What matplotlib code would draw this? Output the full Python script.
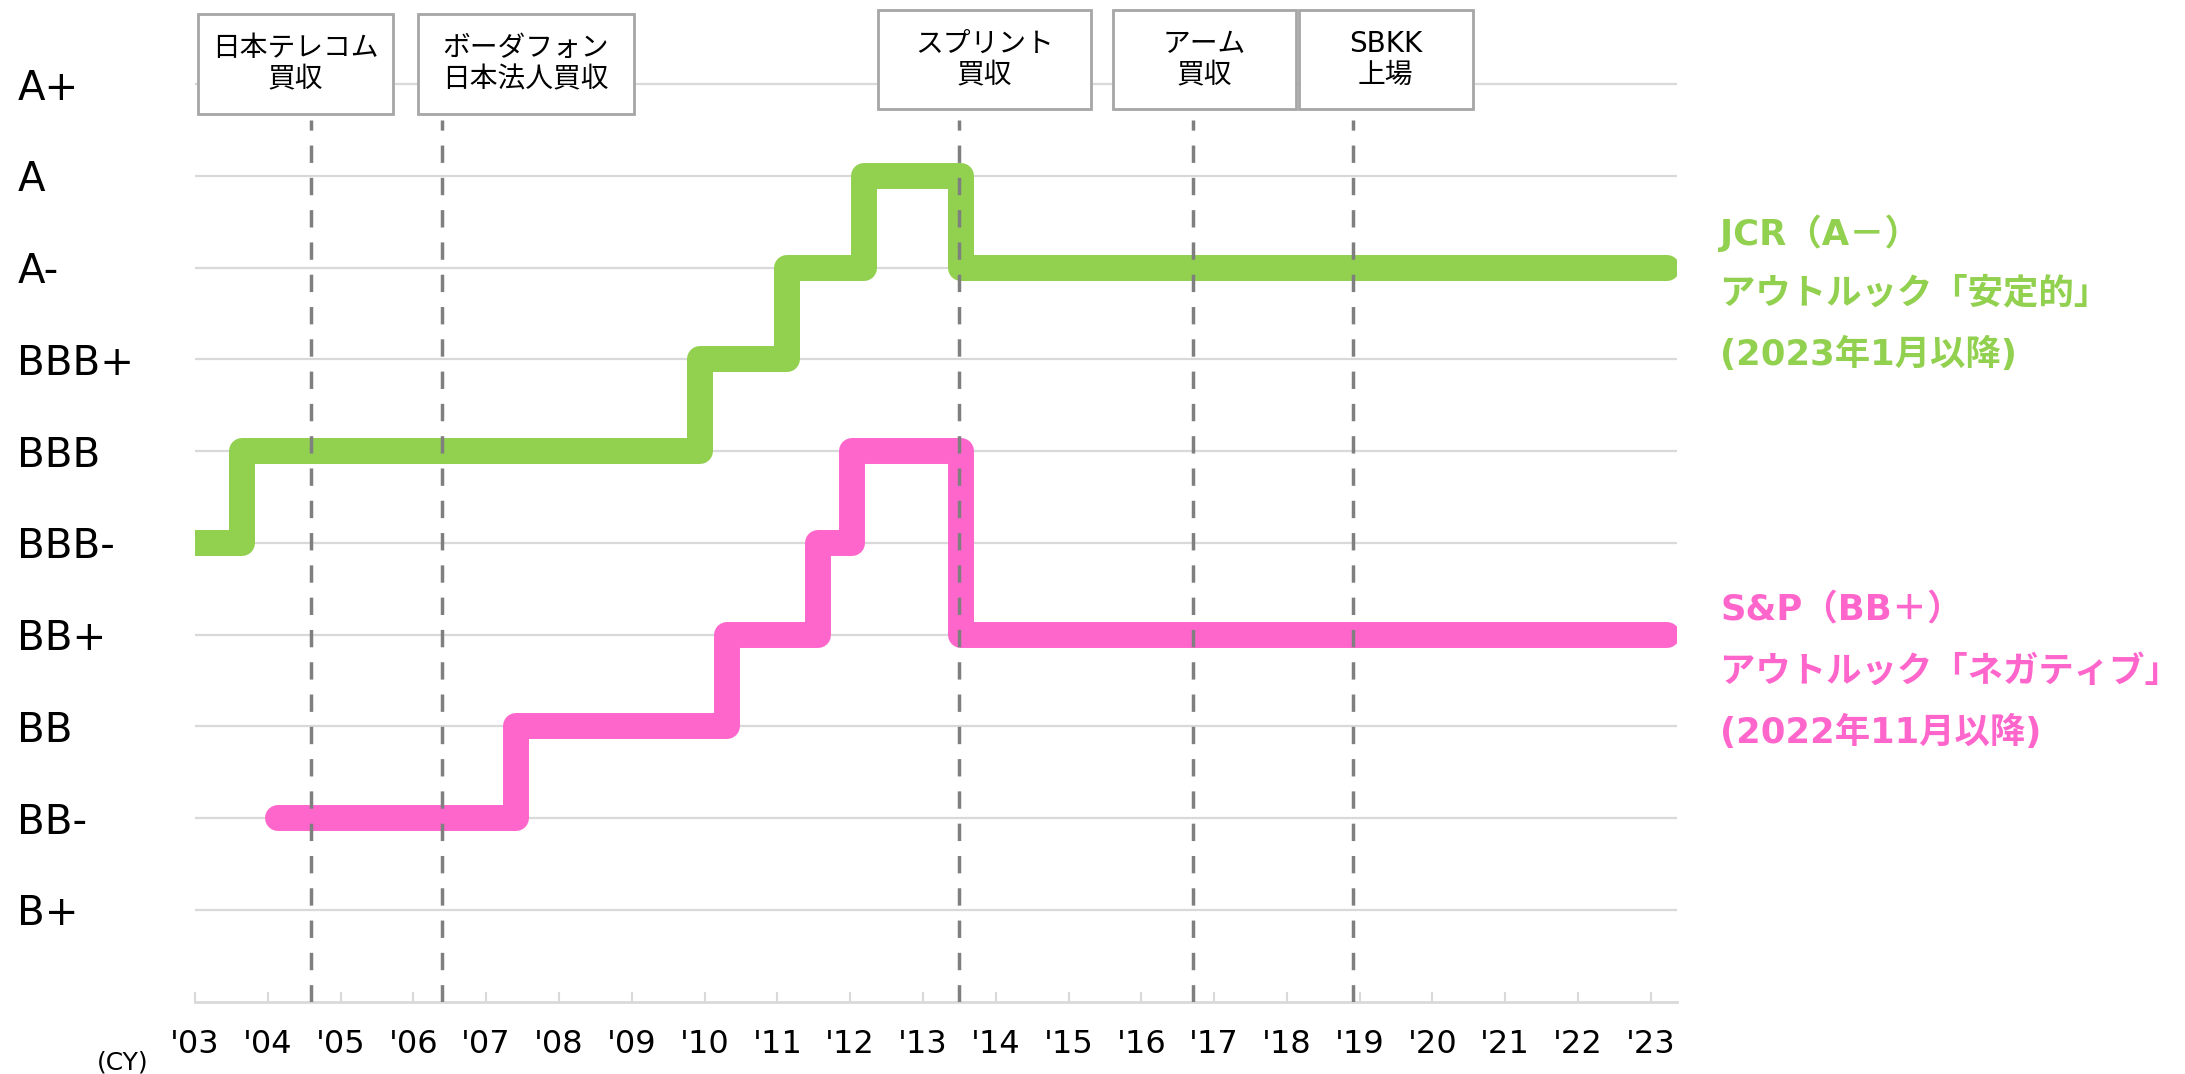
import matplotlib
matplotlib.use("Agg")
import matplotlib.pyplot as plt
from matplotlib.patches import Rectangle

plt.rcParams['font.family'] = ['DejaVu Sans', 'Noto Sans CJK JP']

# rating scale (bottom -> top) and years on the x axis
rating_labels = ['B+', 'BB-', 'BB', 'BB+', 'BBB-', 'BBB', 'BBB+', 'A-', 'A', 'A+']
year_ticks = list(range(2003, 2024))
year_labels = ["'%02d" % (y % 100) for y in year_ticks]

# rating history (year of change -> new rating)
jcr_years = [2003.0, 2003.64, 2009.94, 2011.13, 2012.19, 2013.52, 2023.22]
jcr_ratings = ['BBB-', 'BBB', 'BBB+', 'A-', 'A', 'A-', 'A-']
sp_years = [2004.14, 2007.41, 2010.31, 2011.56, 2012.03, 2013.52, 2023.22]
sp_ratings = ['BB-', 'BB', 'BB+', 'BBB-', 'BBB', 'BB+', 'BB+']

# events
event_years = [2004.59, 2006.39, 2013.49, 2016.71, 2018.91]
event_labels = ['日本テレコム\n買収', 'ボーダフォン\n日本法人買収', 'スプリント\n買収', 'アーム\n買収', 'SBKK\n上場']

jcr_note = ['JCR（A－）', 'アウトルック「安定的」', '(2023年1月以降)']
sp_note = ['S&P（BB＋）', 'アウトルック「ネガティブ」', '(2022年11月以降)']

GREEN = '#92D050'
PINK = '#FF66CC'
GRID = '#D9D9D9'

# layout of the event boxes (x span in years, y span in rating steps)
box_x = [(2003.04, 2005.72), (2006.06, 2009.03), (2012.38, 2015.31), (2015.61, 2018.12), (2018.16, 2020.55)]
box_y = [(9.675, 10.765), (9.675, 10.765), (9.73, 10.81), (9.73, 10.81), (9.73, 10.81)]


def to_level(ratings):
    return [rating_labels.index(r) + 1 for r in ratings]


fig = plt.figure(figsize=(21.85, 10.74), dpi=100)
ax = fig.add_axes([0.08924, 0.06732, 0.6783, 0.9269])
ax.set_xlim(2003, 2023.36)
ax.set_ylim(0, 10.85)

# grid / axes
ax.set_yticks(range(1, len(rating_labels) + 1), rating_labels)
ax.yaxis.grid(True, color=GRID, lw=1.6, zorder=0)
ax.set_axisbelow(True)
ax.tick_params(axis='y', length=0, pad=128, labelsize=29)
for lbl in ax.get_yticklabels():
    lbl.set_horizontalalignment('left')
for s in ['left', 'top', 'right']:
    ax.spines[s].set_visible(False)
ax.spines['bottom'].set_color(GRID)
ax.spines['bottom'].set_linewidth(2)
ax.set_xticks(year_ticks, year_labels)
ax.tick_params(axis='x', direction='in', length=7, width=1.5, color=GRID, pad=20, labelsize=23)

# rating lines
for yrs, rts, col in [(jcr_years, jcr_ratings, GREEN), (sp_years, sp_ratings, PINK)]:
    ln, = ax.step(yrs, to_level(rts), where='post', color=col, lw=18.7, zorder=2)
    ln.set_solid_capstyle('round')
    ln.set_solid_joinstyle('round')

# event lines and boxes
for yr in event_years:
    ax.plot([yr, yr], [0, 9.61], color='#7F7F7F', lw=2.5, dashes=(5, 4.3), zorder=3)
for (x0, x1), (y0, y1), txt in zip(box_x, box_y, event_labels):
    ax.add_patch(Rectangle((x0, y0), x1 - x0, y1 - y0, facecolor='white',
                           edgecolor='#A6A6A6', lw=2, zorder=4, clip_on=False))
    ax.text((x0 + x1) / 2, (y0 + y1) / 2, txt, ha='center', va='center', fontsize=20,
            linespacing=1.15, zorder=5)

# rating notes on the right
for note, y_mid, col in [(jcr_note, 7.72, GREEN), (sp_note, 3.6, PINK)]:
    for i, line in enumerate(note):
        ax.text(2023.95, y_mid + (1 - i) * 0.66, line, color=col, fontsize=25.5,
                fontweight='bold', ha='left', va='center')

fig.text(0.0563, 0.011, '(CY)', fontsize=18, ha='center', va='center')

fig.savefig('out.png', dpi=100, facecolor='white')
